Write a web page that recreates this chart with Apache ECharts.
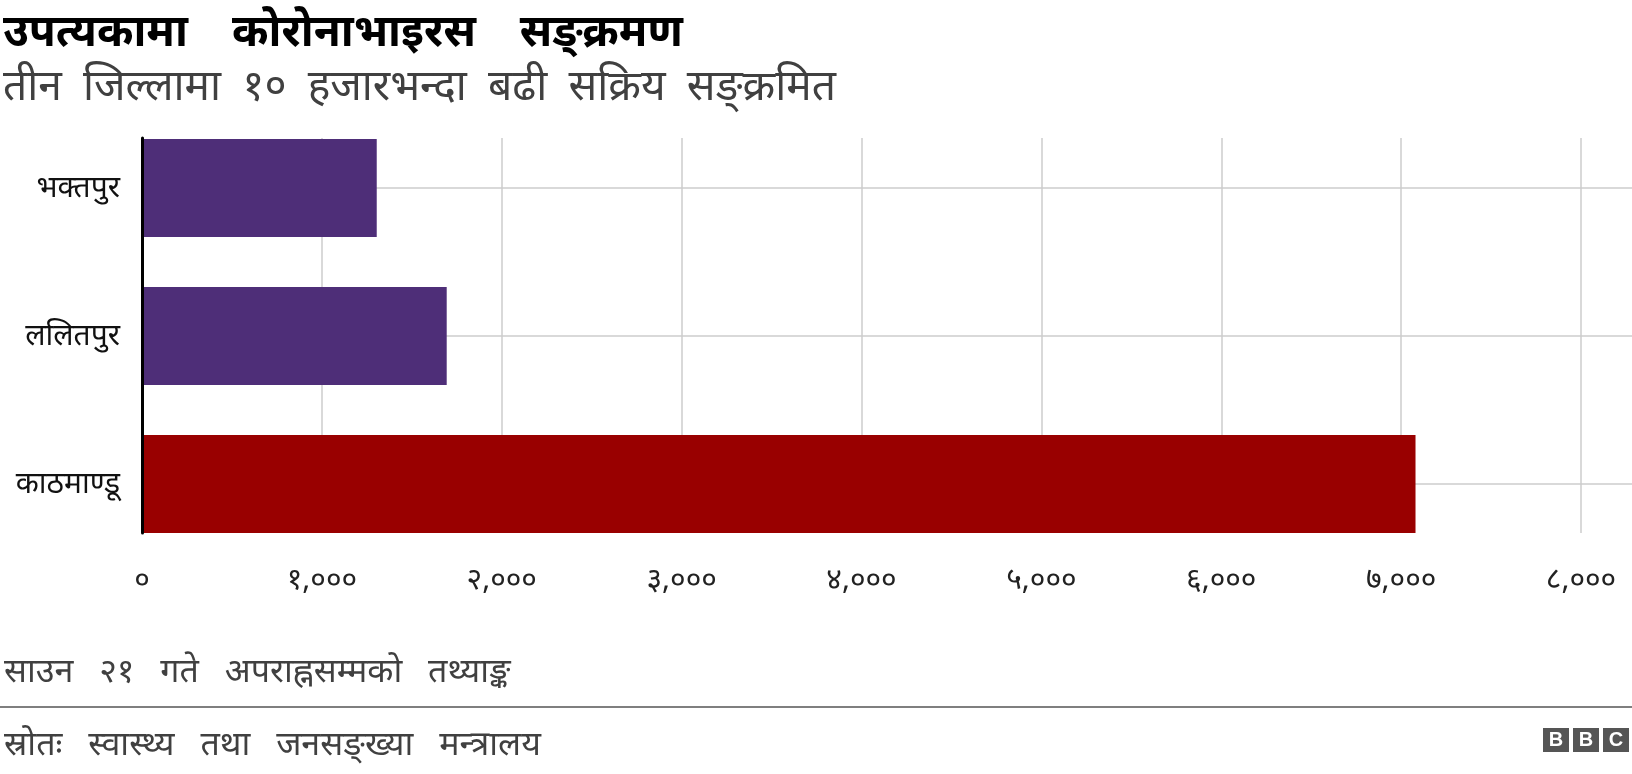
<!DOCTYPE html>
<html>
<head>
<meta charset="utf-8">
<script src="https://cdn.jsdelivr.net/npm/echarts@6/dist/echarts.min.js"></script>
<style>
  html, body { margin: 0; padding: 0; background: #fff; }
  #chart { width: 1632px; height: 774px; }
</style>
</head>
<body>
<div id="chart"></div>
<script>
// data
const districts = ['भक्तपुर', 'ललितपुर', 'काठमाण्डू'];
const activeCases = [1305, 1694, 7080];
const barColors = ['#4e2e78', '#4e2e78', '#990000'];
const xTicks = [0, 1000, 2000, 3000, 4000, 5000, 6000, 7000, 8000];

const titleText = 'उपत्यकामा कोरोनाभाइरस सङ्क्रमण';
const subtitleText = 'तीन जिल्लामा १० हजारभन्दा बढी सक्रिय सङ्क्रमित';
const noteText = 'साउन २१ गते अपराह्नसम्मको तथ्याङ्क';
const sourceText = 'स्रोतः स्वास्थ्य तथा जनसङ्ख्या मन्त्रालय';

const font = '"Noto Sans", "Noto Sans Devanagari", sans-serif';
const devDigits = '०१२३४५६७८९';
function toDev(n) {
  const s = n.toLocaleString('en-US');
  return s.replace(/[0-9]/g, d => devDigits[+d]);
}
// the original font has much wider word gaps
const widen = (s, gap) => s.split(' ').join(gap);

const W = 1632;
const plotLeft = 142;
const plotRight = 1581;
const xMax = xTicks[xTicks.length - 1];
// second grid runs to the page edge, so stretch its scale to match
const xMaxWide = xMax * (W - plotLeft) / (plotRight - plotLeft);

const chart = echarts.init(document.getElementById('chart'));

const option = {
  animation: false,
  textStyle: { fontFamily: font },
  title: [
    {
      text: widen(titleText, '\u2003'), left: -2, top: 6,
      textStyle: { fontSize: 44, lineHeight: 44, fontWeight: 'bold', color: '#000', fontFamily: font }
    },
    {
      text: widen(subtitleText, '\u2002'), left: -2, top: 62,
      textStyle: { fontSize: 42.5, lineHeight: 42, fontWeight: 'normal', color: '#404040', fontFamily: font }
    },
    {
      text: widen(noteText, ' \u2002'), left: -1, top: 650,
      textStyle: { fontSize: 34, lineHeight: 34, fontWeight: 'normal', color: '#404040', fontFamily: font }
    },
    {
      text: widen(sourceText, ' \u2002'), left: -1, top: 723,
      textStyle: { fontSize: 34, lineHeight: 34, fontWeight: 'normal', color: '#404040', fontFamily: font }
    }
  ],
  grid: [
    { left: plotLeft, right: W - plotRight, top: 138, height: 395 },
    { left: plotLeft, right: 0, top: 188, height: 296 }
  ],
  xAxis: [
    {
      gridIndex: 0, type: 'value', min: 0, max: xMax, interval: 1000,
      axisLine: { show: false }, axisTick: { show: false },
      splitLine: { show: true, lineStyle: { color: '#cccccc', width: 1.5 } },
      axisLabel: {
        margin: 32, fontSize: 30, lineHeight: 30, color: '#222', fontFamily: font,
        formatter: v => toDev(v)
      }
    },
    {
      gridIndex: 1, type: 'value', min: 0, max: xMaxWide, show: false,
      splitLine: { show: false }
    }
  ],
  yAxis: [
    {
      gridIndex: 0, type: 'category', data: districts, inverse: true, z: 10,
      axisLine: { show: true, lineStyle: { color: '#000', width: 3 } },
      axisTick: { show: false }, axisLabel: { show: false },
      splitLine: { show: false }
    },
    {
      gridIndex: 1, type: 'category', data: districts, inverse: true,
      boundaryGap: false,
      axisLine: { show: false }, axisTick: { show: false },
      splitLine: { show: true, lineStyle: { color: '#cccccc', width: 1.5 } },
      axisLabel: { margin: 22, fontSize: 30, color: '#111', fontFamily: font }
    }
  ],
  series: [
    {
      type: 'bar', xAxisIndex: 1, yAxisIndex: 1,
      barWidth: 98,
      data: activeCases.map((v, i) => ({ value: v, itemStyle: { color: barColors[i] } }))
    }
  ],
  graphic: [
    {
      type: 'line', z: 10,
      shape: { x1: 0, y1: 707, x2: W, y2: 707 },
      style: { stroke: '#7f7f7f', lineWidth: 2 }
    },
    {
      type: 'group', left: 1543, top: 728,
      children: ['B', 'B', 'C'].flatMap((ch, i) => [
        { type: 'rect', shape: { x: i * 30, y: 0, width: 26, height: 24 }, style: { fill: '#555' } },
        {
          type: 'text', x: i * 30 + 13, y: 12,
          style: { text: ch, fill: '#fff', font: 'bold 20px Arial, "Liberation Sans", sans-serif', align: 'center', verticalAlign: 'middle' }
        }
      ])
    }
  ]
};

chart.setOption(option);
</script>
</body>
</html>
